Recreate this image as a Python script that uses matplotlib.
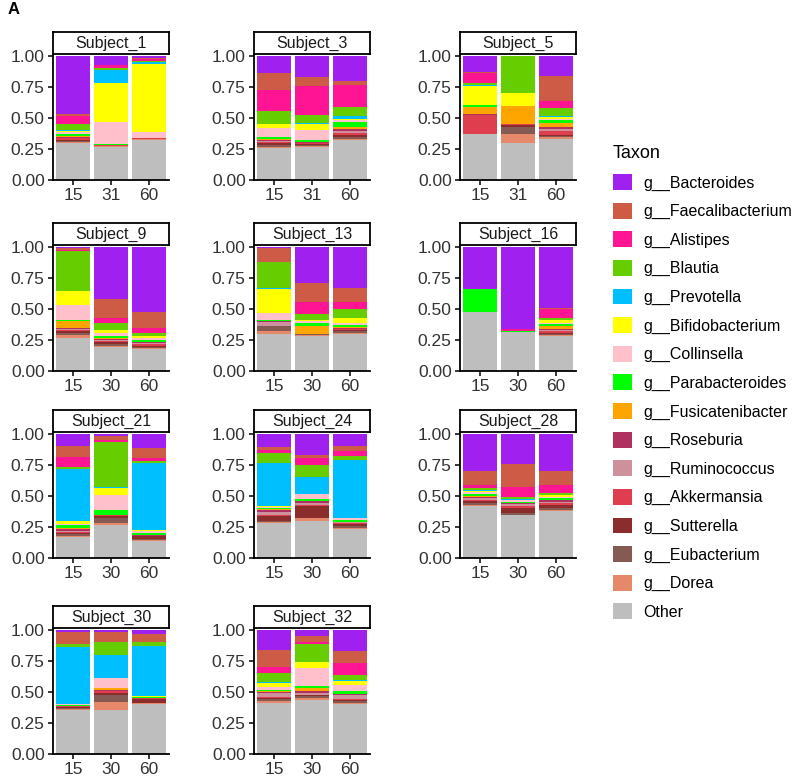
# Stacked relative-abundance bars per subject, faceted like ggplot facet_wrap
import numpy as np
import matplotlib.pyplot as plt
from matplotlib.patches import Patch

plt.rcParams['font.family'] = ['Liberation Sans', 'DejaVu Sans']

# Data
subjects = ['Subject_1', 'Subject_3', 'Subject_5', 'Subject_9', 'Subject_13', 'Subject_16',
            'Subject_21', 'Subject_24', 'Subject_28', 'Subject_30', 'Subject_32']
days = [['15', '31', '60'], ['15', '31', '60'], ['15', '31', '60'],
        ['15', '30', '60'], ['15', '30', '60'], ['15', '30', '60'],
        ['15', '30', '60'], ['15', '30', '60'], ['15', '30', '60'],
        ['15', '30', '60'], ['15', '30', '60']]

taxa = ['g__Bacteroides', 'g__Faecalibacterium', 'g__Alistipes', 'g__Blautia',
        'g__Prevotella', 'g__Bifidobacterium', 'g__Collinsella', 'g__Parabacteroides',
        'g__Fusicatenibacter', 'g__Roseburia', 'g__Ruminococcus', 'g__Akkermansia',
        'g__Sutterella', 'g__Eubacterium', 'g__Dorea', 'Other']
colors = ['#A020F0', '#CD5B45', '#FF1493', '#66CD00', '#00BFFF', '#FFFF00', '#FFC0CB',
          '#00FF00', '#FFA500', '#B03060', '#CD919E', '#DF3E4E', '#8B2D2D', '#845A52',
          '#E5896A', '#BEBEBE']

# relative abundance, 3 days per subject, subjects in the order above
bacteroides = [.47, .07, .02, .135, .17, .20, .125, 0, .16, .01, .42, .525, .01, .29, .33,
               .335, .665, .495, .10, .015, .115, .105, .17, .095, .295, .24, .30,
               .02, .02, .03, .165, .05, .17]
faecalibacterium = [.01, .005, .005, .14, .075, .03, .01, 0, .20, .015, .155, .13, .11, .15, .115,
                    0, 0, .005, .085, .035, .075, .02, .025, .04, .12, .185, .115,
                    .09, .075, .065, .13, .045, .10]
alistipes = [.07, .025, .015, .17, .23, .18, .08, 0, .06, .01, .04, .035, 0, .10, .055,
             0, .01, .07, .08, .015, .03, .03, .055, .045, .02, .08, .06,
             .005, .005, .005, .055, .02, .09]
blautia = [.05, .01, .01, .10, .065, .075, .015, .30, .06, .32, .055, .025, .21, .05, .075,
           0, 0, .015, .02, .365, .015, .075, .10, .03, .015, .02, .015,
           .02, .10, .03, .07, .14, .045]
prevotella = [.005, .11, .015, .005, .01, .02, .01, 0, .01, 0, 0, 0, .005, 0, 0,
              0, 0, .005, .42, .005, .54, .35, .135, .47, .01, .01, .005,
              .46, .185, .405, .01, 0, .005]
bifidobacterium = [.005, .31, .55, .03, .05, .01, .155, .105, .02, .115, .025, .02, .20, .01, .04,
                   0, 0, .02, .02, .055, .01, .01, 0, 0, .01, 0, .01,
                   .005, .005, .005, .03, .055, .035]
collinsella = [.02, .18, .045, .07, .08, .015, 0, 0, .01, .115, .025, .015, .055, .01, .015,
               0, 0, .01, .01, .125, .01, .01, .04, .01, .01, .01, .01,
               .005, .075, 0, .02, .145, .05]
parabacteroides = [.015, .01, .005, .02, .01, .04, .02, 0, .02, .01, .015, .02, .01, .03, .015,
                   .19, .01, .02, .025, .035, .02, .005, .015, .02, .02, .01, .02,
                   .01, 0, .01, .01, .01, .02]
fusicatenibacter = [.01, 0, 0, .01, .005, .02, .05, .14, .03, .055, .005, 0, 0, .06, .01,
                    0, 0, .02, .01, 0, 0, .005, 0, 0, .01, 0, 0,
                    0, .02, 0, .01, .03, 0]
roseburia = [.005, 0, 0, .005, .005, .015, .01, .005, .015, .01, .01, .005, .005, 0, .005,
             0, 0, .01, .01, .005, .005, .02, .015, 0, .01, .01, .01,
             0, .01, 0, .01, .01, .01]
ruminococcus = [.005, 0, 0, .01, .005, .015, 0, 0, .02, .01, .01, .01, .03, 0, .005,
                0, 0, .01, .01, 0, 0, .02, .015, .01, .01, .015, .01,
                0, 0, 0, .03, .02, .03]
akkermansia = [.01, .005, .005, .01, .005, .015, .15, .005, .03, .01, .01, .01, 0, 0, .005,
               0, 0, .01, .01, .01, .005, .01, .01, .005, .01, .02, .015,
               .005, .01, .01, .01, 0, .01]
sutterella = [.01, 0, 0, .01, .005, .02, 0, .015, .01, .01, .01, .01, 0, .005, .01,
              0, 0, .01, .01, .01, .02, .04, .095, .02, .02, .04, .03,
              .01, .02, .03, .01, .005, .01]
eubacterium = [.005, 0, 0, .02, .01, .015, 0, .055, .01, .02, .02, .01, .04, .005, .01,
               0, 0, .01, .01, .04, .01, .01, 0, .01, .01, .01, .01,
               .005, .055, 0, .01, .02, .01]
dorea = [.01, .005, .005, .01, .005, .01, .005, .075, .015, .02, .01, .01, .03, .01, .01,
         0, 0, .01, .01, .015, .01, .01, .025, .015, .01, .005, .01,
         .01, .065, .01, .02, .015, .015]
other = [.30, .27, .325, .255, .27, .32, .37, .30, .33, .27, .19, .175, .295, .28, .30,
         .475, .315, .28, .17, .27, .135, .28, .30, .23, .42, .345, .38,
         .355, .355, .40, .41, .435, .40]

abundance = np.array([bacteroides, faecalibacterium, alistipes, blautia, prevotella,
                      bifidobacterium, collinsella, parabacteroides, fusicatenibacter,
                      roseburia, ruminococcus, akkermansia, sutterella, eubacterium,
                      dorea, other])

# Layout (pixels)
W, H = 793, 777
col_left = [53, 254, 460]
row_zero = [180, 371, 558, 754]
panel_w = 116
unit_h = 124
panel_h = unit_h * 1.02
strip_h = 22

fig = plt.figure(figsize=(W / 100, H / 100), dpi=100)

for i, subj in enumerate(subjects):
    r, c = divmod(i, 3)
    left = col_left[c]
    zero = row_zero[r]
    ax = fig.add_axes([left / W, 1 - zero / H, panel_w / W, panel_h / H])
    x = np.arange(3)
    bottom = np.zeros(3)
    # stack from 'Other' at the bottom up to Bacteroides on top
    for k in range(len(taxa) - 1, -1, -1):
        vals = abundance[k, 3 * i:3 * i + 3]
        ax.bar(x, vals, width=0.9, bottom=bottom, color=colors[k], linewidth=0)
        bottom = bottom + vals
    ax.set_xlim(-0.53, 2.53)
    ax.set_ylim(0, 1.02)
    ax.set_xticks(x)
    ax.set_xticklabels(days[i])
    ax.set_yticks([0, 0.25, 0.5, 0.75, 1.0])
    ax.set_yticklabels(['0.00', '0.25', '0.50', '0.75', '1.00'])
    ax.tick_params(labelsize=12.5, labelcolor='#333333', length=3.5, width=1.1, pad=2.5)
    for s in ['top', 'right']:
        ax.spines[s].set_visible(False)
    for s in ['left', 'bottom']:
        ax.spines[s].set_linewidth(1.3)

    # facet strip
    sax = fig.add_axes([left / W, 1 - (zero - panel_h) / H, panel_w / W, strip_h / H])
    sax.set_xticks([])
    sax.set_yticks([])
    for s in sax.spines.values():
        s.set_linewidth(1.3)
    sax.text(0.5, 0.45, subj, ha='center', va='center', fontsize=11.5, color='#1a1a1a',
             transform=sax.transAxes)

fig.text(8 / W, 1 - 10 / H, 'A', fontsize=12, fontweight='bold', va='center', ha='left')

handles = [Patch(facecolor=col, edgecolor='none') for col in colors]
fig.legend(handles, taxa, loc='upper left', bbox_to_anchor=(613 / W, 1 - 145 / H),
           frameon=False, fontsize=11.5, title='Taxon', title_fontsize=13, alignment='left',
           handlelength=1.2, handleheight=1.15, labelspacing=0.76, handletextpad=0.7,
           borderpad=0, borderaxespad=0)

fig.savefig('out.png', dpi=100)
